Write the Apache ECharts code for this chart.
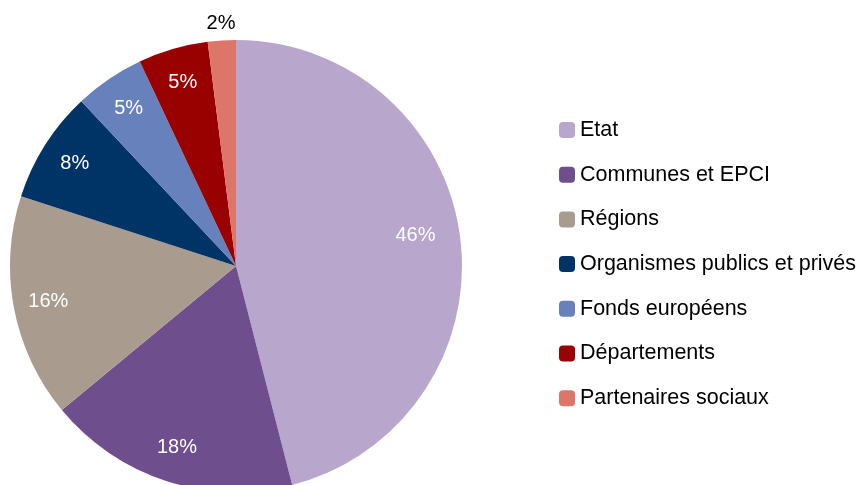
<!DOCTYPE html>
<html>
<head>
<meta charset="utf-8">
<script src="https://cdn.jsdelivr.net/npm/echarts@6/dist/echarts.min.js"></script>
<style>
html,body{margin:0;padding:0;background:#fff;}
#chart{width:861px;height:485px;}
</style>
</head>
<body>
<div id="chart"></div>
<script>
const categories = ["Etat", "Communes et EPCI", "Régions", "Organismes publics et privés", "Fonds européens", "Départements", "Partenaires sociaux"];
const values = [46, 18, 16, 8, 5, 5, 2];
const colors = ["#B9A6CC", "#6E4E8C", "#A99B8D", "#003366", "#6681BB", "#990000", "#DC7668"];

const FONT = "'Liberation Sans', Arial, sans-serif";
const mainData = categories.map((c, i) => ({ name: c, value: values[i], itemStyle: { color: colors[i] } }));
const labelData = categories.map((c, i) => ({
  name: c, value: values[i],
  label: i === 6 ? { color: '#000' } : undefined
}));

const chart = echarts.init(document.getElementById('chart'));
chart.setOption({
  animation: false,
  backgroundColor: '#fff',
  legend: {
    orient: 'vertical',
    left: 559,
    top: 118,
    padding: 0,
    itemWidth: 16,
    itemHeight: 16,
    itemGap: 20.7,
    icon: 'roundRect',
    textStyle: { fontFamily: FONT, fontSize: 21.5, color: '#000', lineHeight: 24 },
    data: categories
  },
  series: [
    {
      type: 'pie',
      center: [236, 266],
      radius: [0, 226],
      startAngle: 90,
      clockwise: true,
      silent: true,
      label: { show: false },
      labelLine: { show: false },
      data: mainData
    },
    {
      type: 'pie',
      center: [236, 266],
      radius: [150, 226],
      startAngle: 90,
      clockwise: true,
      silent: true,
      itemStyle: { color: 'rgba(0,0,0,0)' },
      label: {
        show: true,
        position: 'inside',
        formatter: '{d}%',
        color: '#fff',
        fontFamily: FONT,
        fontSize: 20
      },
      labelLine: { show: false },
      labelLayout: function (p) {
        if (p.dataIndex === 6) return { dx: -3, dy: -52 };
        if (p.dataIndex === 0) return { dx: -10, dy: -7 };
        return {};
      },
      data: labelData
    }
  ]
});
</script>
</body>
</html>
